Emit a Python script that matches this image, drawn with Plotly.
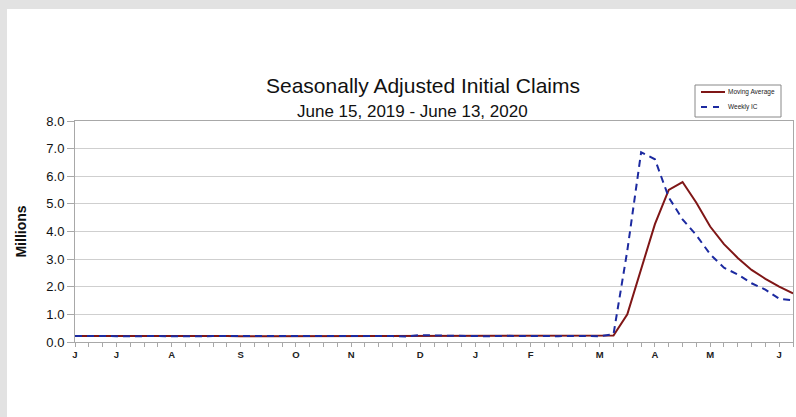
import pandas as pd
import plotly.graph_objects as go

# ---- data (millions of claims, seasonally adjusted) ----
week_start = "2019-06-15"
n_weeks = 53
weeks = list(pd.date_range(week_start, periods=n_weeks, freq="7D"))

weekly_ic = [0.216, 0.227, 0.221, 0.209, 0.216, 0.206, 0.215, 0.209, 0.220, 0.209,
             0.215, 0.217, 0.204, 0.208, 0.213, 0.219, 0.210, 0.214, 0.213, 0.218,
             0.211, 0.225, 0.227, 0.213, 0.203, 0.252, 0.235, 0.222, 0.220, 0.214,
             0.207, 0.223, 0.216, 0.201, 0.205, 0.211, 0.220, 0.217, 0.211,
             0.282, 3.307, 6.867, 6.615, 5.237, 4.442, 3.867, 3.176, 2.687, 2.446,
             2.126, 1.897, 1.566, 1.508]

moving_avg = [0.218, 0.220, 0.222, 0.218, 0.218, 0.213, 0.212, 0.212, 0.213, 0.213,
              0.213, 0.215, 0.211, 0.211, 0.211, 0.211, 0.213, 0.214, 0.214, 0.214,
              0.214, 0.217, 0.220, 0.219, 0.217, 0.224, 0.228, 0.228, 0.232, 0.223,
              0.216, 0.216, 0.215, 0.212, 0.211, 0.208, 0.209, 0.213, 0.215,
              0.232, 1.004, 2.667, 4.268, 5.506, 5.790, 5.040, 4.180, 3.543, 3.044,
              2.608, 2.289, 2.002, 1.759]

month_tick_dates = ["2019-06-15", "2019-07-06", "2019-08-03", "2019-09-07", "2019-10-05",
                    "2019-11-02", "2019-12-07", "2020-01-04", "2020-02-01", "2020-03-07",
                    "2020-04-04", "2020-05-02", "2020-06-06"]
month_tick_labels = ["J", "J", "A", "S", "O", "N", "D", "J", "F", "M", "A", "M", "J"]

y_ticks = [0, 1, 2, 3, 4, 5, 6, 7, 8]

series_names = ["Moving Average", "Weekly IC"]
title_text = "Seasonally Adjusted Initial Claims"
subtitle_text = "June 15, 2019 - June 13, 2020"
y_title = "Millions"

# ---- layout geometry (pixels) ----
W, H = 796, 417
L, R, T, B = 75, 3, 121, 75
PW, PH = W - L - R, H - T - B


def px(x):
    return (x - L) / PW


def py(y):
    return (H - B - y) / PH


FONT = "Liberation Sans, Arial, sans-serif"
GRID = "#cfcfcf"
AXIS = "#a8a8a8"
MA_COLOR = "#7f1616"
IC_COLOR = "#1c2aa0"
IC_DASH = "7px,5px"

fig = go.Figure()
fig.add_trace(go.Scatter(x=weeks, y=moving_avg, mode="lines", name=series_names[0],
                         line=dict(color=MA_COLOR, width=2), showlegend=False))
fig.add_trace(go.Scatter(x=weeks, y=weekly_ic, mode="lines", name=series_names[1],
                         line=dict(color=IC_COLOR, width=2, dash=IC_DASH), showlegend=False))

# manual compact legend (box, line samples, real text labels)
shapes = [
    dict(type="rect", xref="paper", yref="paper", x0=px(0), x1=px(7), y0=py(H), y1=py(0),
         fillcolor="#e2e2e2", line=dict(width=0), layer="below"),
    dict(type="rect", xref="paper", yref="paper", x0=px(0), x1=px(W), y0=py(9), y1=py(0),
         fillcolor="#e2e2e2", line=dict(width=0), layer="below"),
    dict(type="rect", xref="paper", yref="paper", x0=px(695), x1=px(781), y0=py(117), y1=py(85),
         fillcolor="white", line=dict(color="#888", width=1)),
    dict(type="line", xref="paper", yref="paper", x0=px(701), x1=px(725), y0=py(92), y1=py(92),
         line=dict(color=MA_COLOR, width=2)),
    dict(type="line", xref="paper", yref="paper", x0=px(701), x1=px(725), y0=py(107), y1=py(107),
         line=dict(color=IC_COLOR, width=2, dash="6px,6px")),
]

annotations = [
    dict(text=title_text, x=px(423), y=py(86), xref="paper", yref="paper",
         xanchor="center", yanchor="middle", showarrow=False,
         font=dict(size=21, family=FONT, color="#111")),
    dict(text=subtitle_text, x=px(412), y=py(112), xref="paper", yref="paper",
         xanchor="center", yanchor="middle", showarrow=False,
         font=dict(size=17, family=FONT, color="#111")),
    dict(text=series_names[0], x=px(726), y=py(92), xref="paper", yref="paper",
         xanchor="left", yanchor="middle", showarrow=False,
         font=dict(size=6.5, family=FONT, color="#222")),
    dict(text=series_names[1], x=px(726), y=py(107), xref="paper", yref="paper",
         xanchor="left", yanchor="middle", showarrow=False,
         font=dict(size=6.5, family=FONT, color="#222")),
]

fig.update_layout(
    width=W, height=H,
    margin=dict(l=L, r=R, t=T, b=B, autoexpand=False),
    paper_bgcolor="white", plot_bgcolor="white",
    font=dict(family=FONT, color="#111"),
    showlegend=False,
    xaxis=dict(type="date", range=[weeks[0], weeks[-1]],
               tickmode="array", tickvals=month_tick_dates,
               ticktext=["<b>%s</b>" % t for t in month_tick_labels],
               tickfont=dict(size=9.5, family=FONT, color="#222"),
               ticks="outside", ticklen=4, tickcolor=AXIS,
               minor=dict(dtick=7 * 86400000, tick0=week_start, ticks="outside",
                          ticklen=4, tickcolor=AXIS, showgrid=False),
               showgrid=False, showline=True, linecolor=AXIS, linewidth=1,
               mirror=True, zeroline=False),
    yaxis=dict(range=[0, 8], tickvals=y_ticks, tickformat=".1f",
               tickfont=dict(size=13, family=FONT, color="#111"),
               ticks="outside", ticklen=7, tickcolor=AXIS,
               showgrid=True, gridcolor=GRID, gridwidth=1,
               showline=True, linecolor=AXIS, linewidth=1, mirror=True,
               zeroline=False,
               title=dict(text="<b>%s</b>" % y_title, font=dict(size=14, family=FONT, color="#111"),
                          standoff=16)),
    shapes=shapes,
    annotations=annotations,
)

fig.write_html("out.html")
